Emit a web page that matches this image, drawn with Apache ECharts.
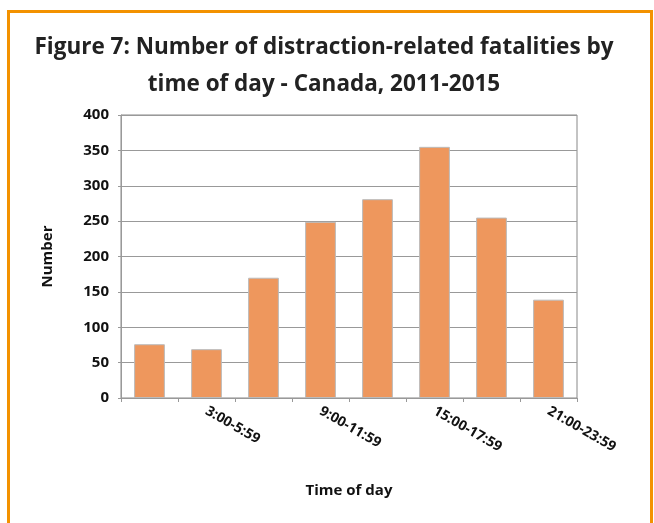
<!DOCTYPE html>
<html>
<head>
<meta charset="utf-8">
<script src="https://cdn.jsdelivr.net/npm/echarts@6/dist/echarts.min.js"></script>
<style>
  html, body { margin: 0; padding: 0; background: #fff; }
  #chart { width: 654px; height: 523px; }
</style>
</head>
<body>
<div id="chart"></div>
<script>
// time of day buckets (only every other one gets a label in the original)
const categories = ['0:00-2:59', '3:00-5:59', '6:00-8:59', '9:00-11:59',
                    '12:00-14:59', '15:00-17:59', '18:00-20:59', '21:00-23:59'];
const fatalities = [76, 69, 170, 249, 281, 355, 255, 139];
const yTicks = [0, 50, 100, 150, 200, 250, 300, 350, 400];

const font = '"Open Sans", "Noto Sans", sans-serif';

const chart = echarts.init(document.getElementById('chart'));
chart.setOption({
    animation: false,
    textStyle: { fontFamily: font },
    title: {
        text: 'Figure 7: Number of distraction-related fatalities by\ntime of day - Canada, 2011-2015',
        left: 319,
        top: 24,
        textAlign: 'center',
        textStyle: { fontSize: 22.5, fontWeight: 'bold', color: '#222', lineHeight: 37, fontFamily: font }
    },
    graphic: [{
        type: 'rect',
        shape: { x: 8.5, y: 11.5, width: 643, height: 600 },
        style: { fill: 'none', stroke: '#F39200', lineWidth: 3 },
        silent: true
    }],
    grid: {
        left: 121, right: 77, top: 115, bottom: 125,
        show: true, borderColor: '#888', borderWidth: 1
    },
    xAxis: {
        type: 'category',
        data: categories,
        name: 'Time of day',
        nameLocation: 'middle',
        nameGap: 85,
        nameTextStyle: { fontSize: 15, fontWeight: 'bold', color: '#111' },
        axisLine: { lineStyle: { color: '#999' } },
        axisTick: { show: true, interval: 0, length: 4, lineStyle: { color: '#999' } },
        axisLabel: {
            interval: function (i) { return i % 2 === 1; },
            rotate: -30,
            margin: 12,
            fontSize: 14,
            fontWeight: 'bold',
            color: '#111'
        }
    },
    yAxis: {
        type: 'value',
        min: yTicks[0],
        max: yTicks[yTicks.length - 1],
        interval: 50,
        name: 'Number',
        nameLocation: 'middle',
        nameGap: 66,
        nameTextStyle: { fontSize: 15, fontWeight: 'bold', color: '#111' },
        axisLine: { show: true, lineStyle: { color: '#999' } },
        axisTick: { show: true, length: 3, lineStyle: { color: '#999' } },
        splitLine: { lineStyle: { color: '#999' } },
        axisLabel: { fontSize: 15, fontWeight: 'bold', color: '#111', margin: 12 }
    },
    series: [{
        type: 'bar',
        data: fatalities,
        barWidth: '54%',
        itemStyle: { color: '#EE975D', borderColor: '#bbb', borderWidth: 1 }
    }]
});
</script>
</body>
</html>
